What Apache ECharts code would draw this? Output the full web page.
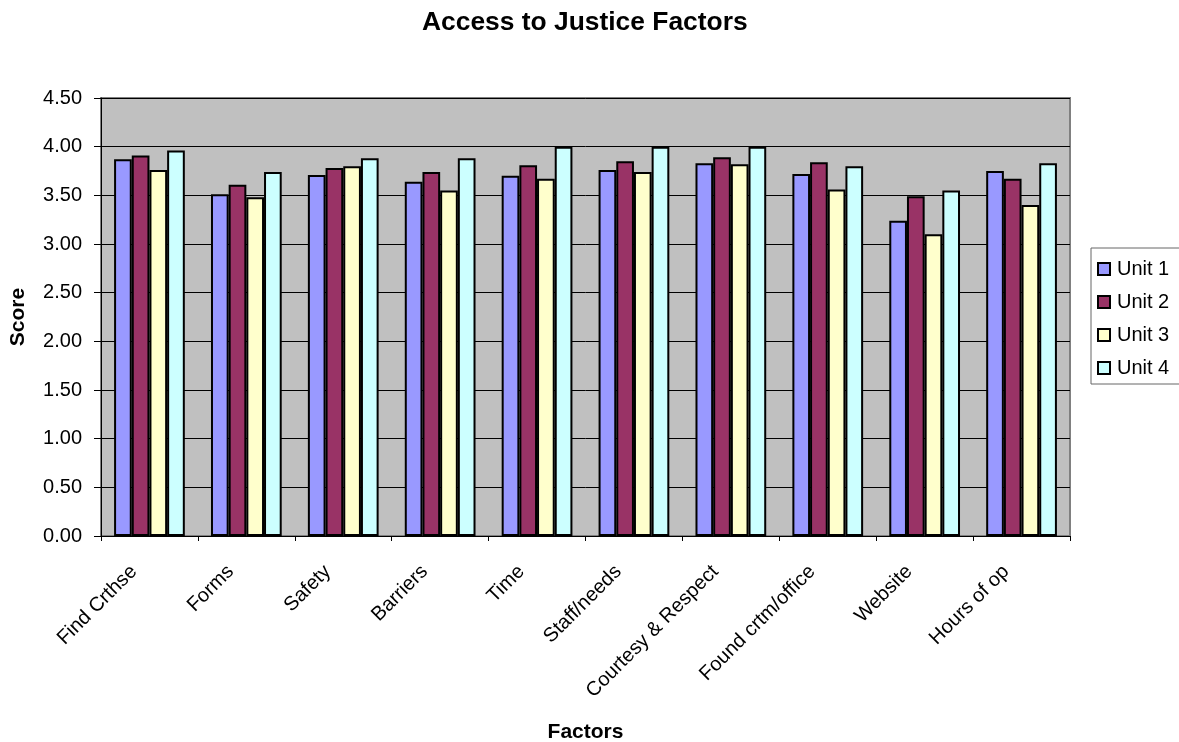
<!DOCTYPE html>
<html>
<head>
<meta charset="utf-8">
<title>Access to Justice Factors</title>
<script src="https://cdn.jsdelivr.net/npm/echarts@6/dist/echarts.min.js"></script>
<style>
  html, body { margin: 0; padding: 0; background: #fff; }
  #chart { width: 1179px; height: 742px; }
</style>
</head>
<body>
<div id="chart"></div>
<script>
// Survey factors along the x axis
const factors = ['Find Crthse', 'Forms', 'Safety', 'Barriers', 'Time', 'Staff/needs',
  'Courtesy & Respect', 'Found crtm/office', 'Website', 'Hours of op'];

// Mean score per factor for each unit
const unit1 = [3.87, 3.51, 3.71, 3.64, 3.70, 3.76, 3.83, 3.72, 3.24, 3.75];
const unit2 = [3.91, 3.61, 3.78, 3.74, 3.81, 3.85, 3.89, 3.84, 3.49, 3.67];
const unit3 = [3.76, 3.48, 3.80, 3.55, 3.67, 3.74, 3.82, 3.56, 3.10, 3.40];
const unit4 = [3.96, 3.74, 3.88, 3.88, 4.00, 4.00, 4.00, 3.80, 3.55, 3.83];

const seriesNames = ['Unit 1', 'Unit 2', 'Unit 3', 'Unit 4'];
const seriesData = [unit1, unit2, unit3, unit4];
const seriesColors = ['#9999FF', '#993366', '#FFFFCC', '#CCFFFF'];

const FONT = '"Liberation Sans", Arial, Helvetica, sans-serif';

const chart = echarts.init(document.getElementById('chart'), null, { renderer: 'canvas' });

chart.setOption({
  backgroundColor: '#ffffff',
  animation: false,
  textStyle: { fontFamily: FONT, color: '#000' },
  title: {
    text: 'Access to Justice Factors',
    left: 417,
    top: 5,
    textStyle: { fontFamily: FONT, fontSize: 26.4, fontWeight: 'bold', color: '#000' }
  },
  legend: {
    orient: 'vertical',
    left: 1091,
    top: 248,
    padding: [11, 100, 6, 6],
    itemGap: 13,
    itemWidth: 12,
    itemHeight: 12,
    icon: 'rect',
    borderColor: '#666',
    borderWidth: 1,
    backgroundColor: '#fff',
    textStyle: { fontFamily: FONT, fontSize: 20, color: '#000', lineHeight: 20, padding: [0, 0, 0, 2] },
    data: seriesNames
  },
  grid: {
    left: 101,
    right: 109,
    top: 98,
    bottom: 206,
    show: true,
    backgroundColor: '#C0C0C0',
    borderColor: '#808080',
    borderWidth: 2,
    containLabel: false,
    outerBoundsMode: 'none'
  },
  xAxis: {
    type: 'category',
    data: factors,
    name: 'Factors',
    nameLocation: 'middle',
    nameGap: 186,
    nameTextStyle: { fontFamily: FONT, fontSize: 21, fontWeight: 'bold', color: '#000' },
    axisLine: { show: true, lineStyle: { color: '#000', width: 1 } },
    axisTick: { show: true, alignWithLabel: false, length: 5, lineStyle: { color: '#000' } },
    axisLabel: {
      rotate: 45,
      interval: 0,
      margin: 17,
      padding: [0, 22, 0, 0],
      fontFamily: FONT,
      fontSize: 20,
      color: '#000'
    },
    splitLine: { show: false }
  },
  yAxis: {
    type: 'value',
    min: 0,
    max: 4.5,
    interval: 0.5,
    name: 'Score',
    nameLocation: 'middle',
    nameGap: 72,
    nameRotate: 90,
    nameTextStyle: { fontFamily: FONT, fontSize: 21, fontWeight: 'bold', color: '#000' },
    axisLine: { show: true, lineStyle: { color: '#000', width: 1 } },
    axisTick: { show: true, length: 7, lineStyle: { color: '#000' } },
    axisLabel: {
      margin: 19,
      fontFamily: FONT,
      fontSize: 20,
      color: '#000',
      formatter: v => v.toFixed(2)
    },
    splitLine: { show: true, lineStyle: { color: '#000', width: 1 } }
  },
  series: seriesNames.map((name, i) => ({
    name,
    type: 'bar',
    data: seriesData[i],
    barGap: '0%',
    barCategoryGap: '27%',
    itemStyle: { color: seriesColors[i], borderColor: '#000', borderWidth: 2 }
  }))
});
</script>
</body>
</html>
